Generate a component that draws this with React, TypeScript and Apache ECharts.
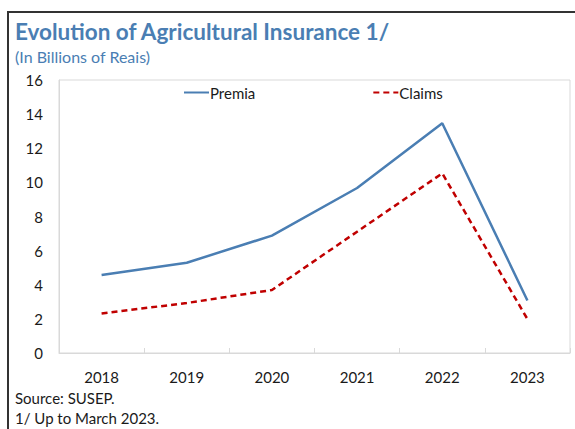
import React, { useEffect, useRef } from "react";
import * as echarts from "echarts";

const years = ["2018", "2019", "2020", "2021", "2022", "2023"];
const premia = [4.57, 5.29, 6.88, 9.67, 13.47, 3.08];
const claims = [2.32, 2.93, 3.69, 7.11, 10.53, 1.99];
const yTicks = { min: 0, max: 16, interval: 2 };

const FONT = "Lato";
const BLUE = "#4a7eb3";
const RED = "#c00000";

export default function App() {
  const ref = useRef<HTMLDivElement>(null);
  useEffect(() => {
    if (!ref.current) return;
    const chart = echarts.init(ref.current, null, { renderer: "svg" });
    chart.setOption({
      animation: false,
      backgroundColor: "#ffffff",
      textStyle: { fontFamily: FONT },
      grid: {
        left: 59,
        right: 5,
        top: 80,
        bottom: 76,
        show: true,
        borderColor: "#d9d9d9",
        borderWidth: 1,
      },
      legend: {
        left: 178,
        top: 80,
        itemWidth: 25,
        itemHeight: 10,
        itemGap: 117,
        itemStyle: { opacity: 0 },
        textStyle: { fontFamily: FONT, fontSize: 15, color: "#1a1a1a", padding: [0, 0, 0, -4] },
        data: ["Premia", "Claims"],
      },
      xAxis: {
        type: "category",
        data: years,
        boundaryGap: true,
        axisLine: { lineStyle: { color: "#d9d9d9", width: 1 } },
        axisTick: { show: true, inside: true, length: 5, lineStyle: { color: "#d9d9d9" } },
        axisLabel: { fontFamily: FONT, fontSize: 15, color: "#1a1a1a", margin: 16 },
        splitLine: { show: false },
      },
      yAxis: {
        type: "value",
        min: yTicks.min,
        max: yTicks.max,
        interval: yTicks.interval,
        axisLine: { show: true, lineStyle: { color: "#d9d9d9", width: 1 } },
        axisTick: { show: false },
        axisLabel: { fontFamily: FONT, fontSize: 15, color: "#1a1a1a", margin: 16 },
        splitLine: { show: false },
      },
      series: [
        {
          name: "Premia",
          type: "line",
          data: premia,
          symbol: "none",
          lineStyle: { color: BLUE, width: 2.5 },
          itemStyle: { color: BLUE },
        },
        {
          name: "Claims",
          type: "line",
          data: claims,
          symbol: "none",
          lineStyle: { color: RED, width: 2.5, type: [6, 4] },
          itemStyle: { color: RED },
        },
      ],
      graphic: [
        {
          type: "polyline",
          shape: { points: [[8, 429], [8, 12], [575, 12]] },
          style: { stroke: "#333333", lineWidth: 2, fill: "none" },
        },
        {
          type: "text",
          left: 15,
          top: 20,
          style: {
            text: "Evolution of Agricultural Insurance 1/",
            fontFamily: FONT,
            fontWeight: "bold",
            fontSize: 22.5,
            fill: BLUE,
          },
        },
        {
          type: "text",
          left: 15,
          top: 48,
          style: {
            text: "(In Billions of Reais)",
            fontFamily: FONT,
            fontSize: 16,
            fill: BLUE,
          },
        },
        {
          type: "text",
          left: 15,
          top: 390,
          style: { text: "Source: SUSEP.", fontFamily: FONT, fontSize: 15, fill: "#1a1a1a" },
        },
        {
          type: "text",
          left: 15,
          top: 410,
          style: { text: "1/ Up to March 2023.", fontFamily: FONT, fontSize: 15, fill: "#1a1a1a" },
        },
      ],
    });
    return () => chart.dispose();
  }, []);
  return <div ref={ref} style={{ width: 575, height: 429, position: "fixed", left: 0, top: 0 }} />;
}
